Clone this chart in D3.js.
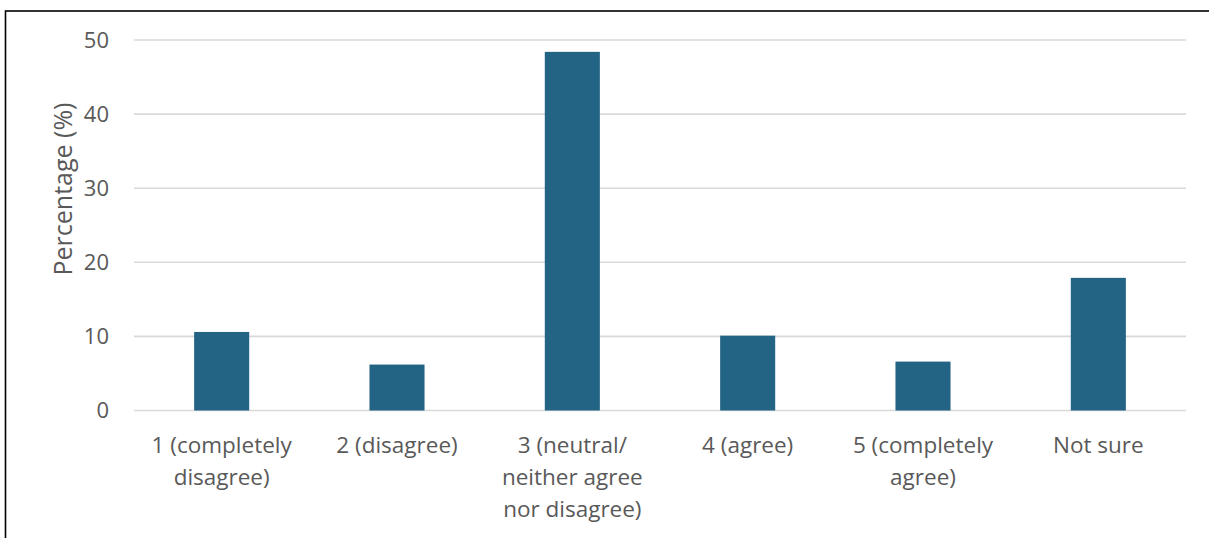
<!DOCTYPE html>
<html><head><meta charset="utf-8">
<script src="https://cdn.jsdelivr.net/npm/d3@7"></script>
<style>
html,body{margin:0;padding:0;background:#fff;}
svg{display:block;}
</style></head>
<body>
<script>
const categories = ["1 (completely disagree)", "2 (disagree)", "3 (neutral/ neither agree nor disagree)", "4 (agree)", "5 (completely agree)", "Not sure"];
const categoryLines = [["1 (completely", "disagree)"], ["2 (disagree)"], ["3 (neutral/", "neither agree", "nor disagree)"], ["4 (agree)"], ["5 (completely", "agree)"], ["Not sure"]];
const values = [10.6, 6.2, 48.4, 10.1, 6.6, 17.9];
const yTicks = [0, 10, 20, 30, 40, 50];
const yTitle = "Percentage (%)";

(function () {
const W = 1209, H = 538;
const svg = d3.select("body").append("svg").attr("width", W).attr("height", H);
const font = "'Open Sans', 'Noto Sans', sans-serif";

// border
svg.append("rect").attr("x", 5.5).attr("y", 11).attr("width", W + 10).attr("height", H + 10)
  .attr("fill", "none").attr("stroke", "#000").attr("stroke-width", 1.6);

const mLeft = 134, mRight = 1186, mTop = 40, mBottom = 410.5;
const x = d3.scaleBand().domain(categories).range([mLeft, mRight]).paddingInner(0.686).paddingOuter(0.343);
const y = d3.scaleLinear().domain([0, 50]).range([mBottom, mTop]);

// gridlines
svg.append("g").selectAll("line").data(yTicks).join("line")
  .attr("x1", mLeft).attr("x2", mRight)
  .attr("y1", d => y(d)).attr("y2", d => y(d))
  .attr("stroke", "#d9d9d9").attr("stroke-width", 1.6);

// y axis labels
const yAxis = d3.axisLeft(y).tickValues(yTicks).tickSize(0).tickPadding(0);
const ga = svg.append("g").attr("transform", `translate(${mLeft - 25},0)`).call(yAxis);
ga.select(".domain").remove();
ga.selectAll("text").attr("font-family", font).attr("font-size", 22).attr("fill", "#595959");

// bars
svg.append("g").selectAll("rect").data(values).join("rect")
  .attr("x", (d, i) => x(categories[i]))
  .attr("width", x.bandwidth())
  .attr("y", d => y(d))
  .attr("height", d => y(0) - y(d))
  .attr("fill", "#236383");

// x labels
const xl = svg.append("g");
categoryLines.forEach((lines, i) => {
  const cx = x(categories[i]) + x.bandwidth() / 2;
  const t = xl.append("text").attr("x", cx).attr("y", 453)
    .attr("text-anchor", "middle").attr("font-family", font).attr("font-size", 22.5).attr("fill", "#595959");
  lines.forEach((l, j) => t.append("tspan").attr("x", cx).attr("dy", j === 0 ? 0 : 32).text(l));
});

// y title
svg.append("text").attr("transform", `translate(72,189) rotate(-90)`)
  .attr("text-anchor", "middle").attr("font-family", font).attr("font-size", 25).attr("fill", "#595959")
  .text(yTitle);
})();
</script>
</body></html>
